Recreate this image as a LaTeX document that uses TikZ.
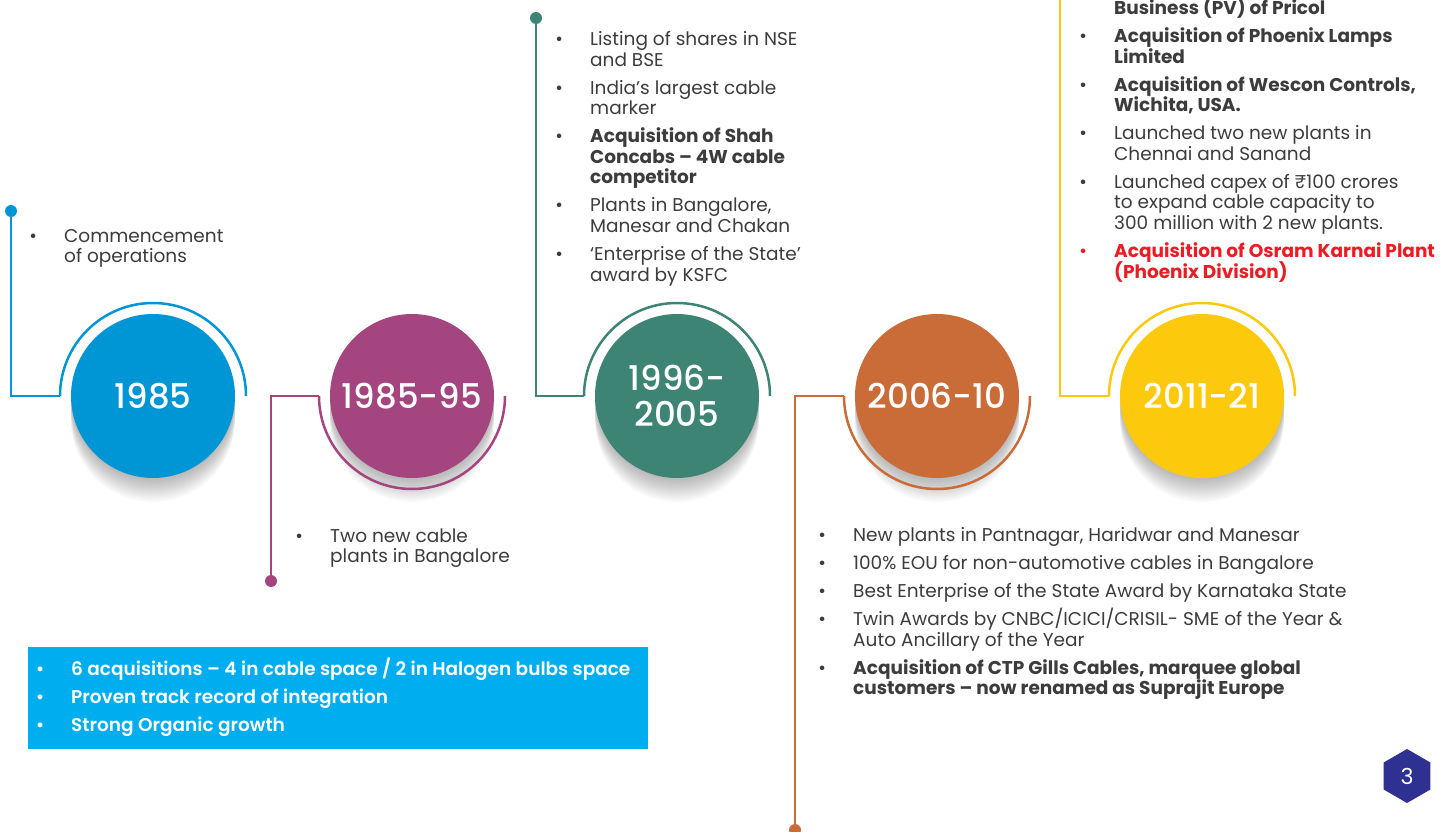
\documentclass[tikz,border=0pt]{standalone}
\usepackage{fontspec}
\setmainfont{Poppins}
\newfontfamily\medfont{Poppins}[UprightFont={* Medium}, BoldFont={* SemiBold}]
\usetikzlibrary{shapes.geometric}
\definecolor{cblue}{HTML}{0096D6}
\definecolor{cpurple}{HTML}{A44580}
\definecolor{cteal}{HTML}{3D8474}
\definecolor{corange}{HTML}{C96C37}
\definecolor{cyellow}{HTML}{FCC90C}
\definecolor{boxblue}{HTML}{00AEEF}
\definecolor{navy}{HTML}{2E3192}
\definecolor{txtgray}{HTML}{3C3C3C}
\definecolor{accred}{HTML}{ED1C24}
\newcommand\bi{\makebox[31pt][l]{\makebox[0pt]{\mdseries •}}}
\newcommand\ci{\hspace*{31pt}}
\newcommand\gap{\vspace{7.4pt}}
\newcommand\blines[1]{\vtop{\hsize=700pt\parindent=0pt\lineskiplimit=-100pt\lineskip=0pt\parskip=0pt #1}}
\tikzset{
 yearc/.style={circle, fill=#1, minimum size=164pt, inner sep=0pt, text=white, font=\medfont\fontsize{34}{36}\selectfont, align=center},
 arcline/.style={draw=#1, line width=2.5pt},
 dotn/.style={circle, fill=#1, minimum size=12pt, inner sep=0pt},
 blocktxt/.style={anchor=base west, inner sep=0pt, text=txtgray, font=\fontsize{18.5}{20.6}\selectfont},
}
\begin{document}
\begin{tikzpicture}[x=1pt,y=-1pt]
\useasboundingbox (0,0) rectangle (1451,832);
\fill[white] (0,0) rectangle (1451,832);
\clip (0,0) rectangle (1451,832);
% shadows
\foreach \cx in {153,412,677,937,1202}{
  \foreach \k in {1,...,12}{
    \fill[black, opacity=0.024] (\cx,396+2*\k) circle[radius=82];
  }
}
% circles
\node[yearc=cblue] (y1) at (153,396) {1985};
\node[yearc=cpurple] (y2) at (412,396) {1985-95};
\node[yearc=cteal] (y3) at (677,396) {1996-\\2005};
\node[yearc=corange] (y4) at (937,396) {2006-10};
\node[yearc=cyellow] (y5) at (1202,396) {2011-21};
% arcs
\coordinate (a1) at (60,396);
\coordinate (a2) at (319,396);
\coordinate (a3) at (584,396);
\coordinate (a4) at (844,396);
\coordinate (a5) at (1109,396);
\draw[arcline=cblue] (a1) arc[start angle=180, end angle=360, radius=93];
\draw[arcline=cpurple] (a2) arc[start angle=180, end angle=0, radius=93];
\draw[arcline=cteal] (a3) arc[start angle=180, end angle=360, radius=93];
\draw[arcline=corange] (a4) arc[start angle=180, end angle=0, radius=93];
\draw[arcline=cyellow] (a5) arc[start angle=180, end angle=360, radius=93];
% dots and connectors
\node[dotn=cblue] (d1) at (11,211) {};
\node[dotn=cpurple] (d2) at (271,581) {};
\node[dotn=cteal] (d3) at (536,18) {};
\node[dotn=corange] (d4) at (795,830) {};
\coordinate (d5) at (1060,-4);
\draw[arcline=cblue] (a1) -| (d1);
\draw[arcline=cpurple] (a2) -| (d2);
\draw[arcline=cteal] (a3) -| (d3);
\draw[arcline=corange] (a4) -| (d4);
\draw[arcline=cyellow] (a5) -| (d5);
% texts
\node[blocktxt] (t1) at (33,242) {\blines{%
\bi Commencement\par \ci of operations\par}};
\node[blocktxt] (t2) at (299,542) {\blines{%
\bi Two new cable\par \ci plants in Bangalore\par}};
\node[blocktxt] (t3) at (559,45.5) {\blines{%
\bi Listing of shares in NSE\par \ci and BSE\par\gap
\bi India’s largest cable\par \ci marker\par\gap
{\bfseries \bi Acquisition of Shah\par \ci Concabs – 4W cable\par \ci competitor\par}\gap
\bi Plants in Bangalore,\par \ci Manesar and Chakan\par\gap
\bi ‘Enterprise of the State’\par \ci award by KSFC\par}};
\node[blocktxt] (t4) at (822,541.5) {\blines{%
\bi New plants in Pantnagar, Haridwar and Manesar\par\gap
\bi 100\% EOU for non-automotive cables in Bangalore\par\gap
\bi Best Enterprise of the State Award by Karnataka State\par\gap
\bi Twin Awards by CNBC/ICICI/CRISIL- SME of the Year \&\par \ci Auto Ancillary of the Year\par\gap
{\bfseries \bi Acquisition of CTP Gills Cables, marquee global\par \ci customers – now renamed as Suprajit Europe\par}}};
\node[blocktxt] (t5) at (1083,14.5) {\blines{%
{\bfseries \ci Business (PV) of Pricol\par}\gap
{\bfseries \bi Acquisition of Phoenix Lamps\par \ci Limited\par}\gap
{\bfseries \bi Acquisition of Wescon Controls,\par \ci Wichita, USA.\par}\gap
\bi Launched two new plants in\par \ci Chennai and Sanand\par\gap
\bi Launched capex of ₹100 crores\par \ci to expand cable capacity to\par \ci 300 million with 2 new plants.\par\gap
{\bfseries\leavevmode\color{accred}\bi Acquisition of Osram Karnai Plant\par \ci (Phoenix Division)\par}}};
% summary box
\node[fill=boxblue, anchor=north west, minimum width=620pt, minimum height=102pt, inner sep=0pt] (box) at (28,647) {};
\node[blocktxt, text=white, font=\medfont\bfseries\fontsize{18.5}{28}\selectfont] (boxtxt) at (40,675.5) {\blines{%
\bi 6 acquisitions – 4 in cable space / 2 in Halogen bulbs space\par
\bi Proven track record of integration\par
\bi Strong Organic growth\par}};
% page number
\node[regular polygon, regular polygon sides=6, shape border rotate=30, fill=navy, minimum size=54pt, inner sep=0pt, text=white, font=\fontsize{22}{22}\selectfont] (pg) at (1407,776) {3};
\end{tikzpicture}
\end{document}
